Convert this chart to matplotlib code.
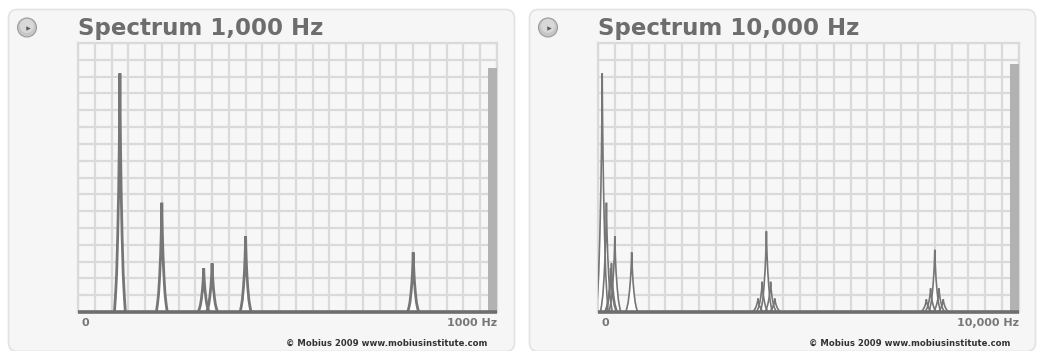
import matplotlib
matplotlib.use('Agg')
import matplotlib.pyplot as plt
from matplotlib.patches import FancyBboxPatch, Circle
import numpy as np

# spectrum peaks (Hz, amplitude in grid units 0..16)
peak_freqs = [100, 200, 300, 320, 400, 800,
              3800, 3900, 4000, 4100, 4200,
              7800, 7900, 8000, 8100, 8200]
peak_amps = [14.2, 6.5, 2.6, 2.9, 4.5, 3.55,
             0.8, 1.8, 4.8, 1.8, 0.8,
             0.75, 1.4, 3.7, 1.4, 0.75]

# the two views of the same signal
titles = ['Spectrum 1,000 Hz', 'Spectrum 10,000 Hz']
spans = [1000, 10000]
end_labels = ['1000 Hz', '10,000 Hz']
overall_levels = [14.5, 14.75]
copyright = '\u00a9 Mobius 2009 www.mobiusinstitute.com'

# peak profile (relative offsets / heights), half widths per view
shape_u = [-1, -0.8, -0.6, -0.4, -0.22, -0.1, -0.04, 0, 0.04, 0.1, 0.22, 0.4, 0.6, 0.8, 1]
shape_v = [0, 0.07, 0.16, 0.32, 0.52, 0.72, 0.86, 1, 0.86, 0.72, 0.52, 0.32, 0.16, 0.07, 0]
half_widths = [13, 140]
line_widths = [2.0, 1.2]

W, H = 1041, 351
fig = plt.figure(figsize=(W / 100, H / 100), dpi=100)
fig.patch.set_facecolor('white')

bg = fig.add_axes([0, 0, 1, 1], zorder=-1)
bg.set_xlim(0, W)
bg.set_ylim(H, 0)
bg.axis('off')

panel_x = [8.5, 529.5]
plot_x = [(78, 497), (598, 1019)]
plot_top, plot_bot = 43, 312

for i in range(2):
    px = panel_x[i]
    bg.add_patch(FancyBboxPatch((px, 9.5), 506, 342, boxstyle='round,pad=0,rounding_size=9',
                                fc='#f6f6f6', ec='#e2e2e2', lw=1.2))
    # play button
    bx = px + 18.5
    bg.add_patch(Circle((bx, 27.5), 9.5, fc='#c6c6c6', ec='#9c9c9c', lw=0.8))
    bg.add_patch(Circle((bx, 26.0), 7.0, fc='#d8d8d8', ec='none'))
    bg.plot(bx + 0.8, 27.5, marker='>', ms=3.2, color='#5a5a5a', mec='none')

    x0, x1 = plot_x[i]
    bg.text(x0, 35.5, titles[i], fontsize=16.5, fontweight='bold', color='#6d6d6d', va='baseline')
    bg.text(x0 + 3, 326, '0', fontsize=8, fontweight='bold', color='#777777', va='baseline')
    bg.text(x1, 326, end_labels[i], fontsize=8, fontweight='bold', color='#777777',
            va='baseline', ha='right')
    bg.text(x1 - 10 + (0 if i == 0 else 1), 345.5, copyright, fontsize=6.1, fontweight='bold',
            color='#333333', va='baseline', ha='right')

    ax = fig.add_axes([x0 / W, (H - plot_bot) / H, (x1 - x0) / W, (plot_bot - plot_top) / H])
    ax.set_facecolor('#f7f7f7')
    span = spans[i]
    ax.set_xlim(0, span)
    ax.set_ylim(0, 16)
    ax.set_xticks(np.linspace(0, span, 26))
    ax.set_yticks(np.arange(0, 17))
    ax.tick_params(length=0, labelbottom=False, labelleft=False)
    ax.grid(color='#dadada', lw=1.6)
    ax.set_axisbelow(True)
    for s in ax.spines.values():
        s.set_color('#dadada')
        s.set_linewidth(1.6)

    w = half_widths[i]
    u = np.array(shape_u)
    v = np.array(shape_v)
    for f, a in zip(peak_freqs, peak_amps):
        if f > span:
            continue
        ax.fill_between(f + u * w, 0, a * v, color='white', lw=0, zorder=2)
    for f, a in zip(peak_freqs, peak_amps):
        if f > span:
            continue
        ax.plot(f + u * w, a * v, color='#767676', lw=line_widths[i], zorder=3,
                solid_joinstyle='miter')

    bar_w = span * 0.022
    ax.bar(span - bar_w / 2, overall_levels[i], width=bar_w, color='#b2b2b2', zorder=4)
    ax.plot([0, span], [0, 0], color='#6e6e6e', lw=2.6, zorder=5, clip_on=False,
            solid_capstyle='butt')

fig.savefig('out.png', dpi=100, facecolor='white')
